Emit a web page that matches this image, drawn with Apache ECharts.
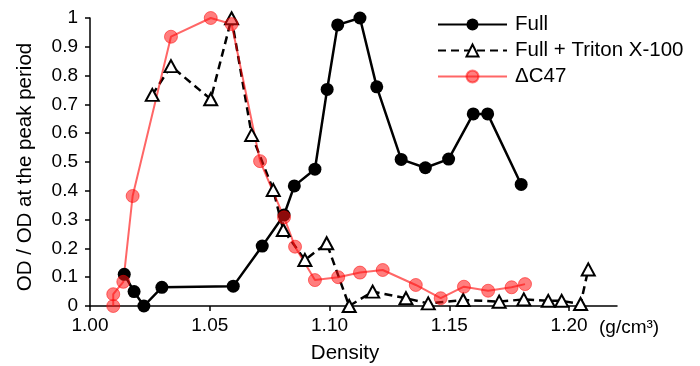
<!DOCTYPE html>
<html><head><meta charset="utf-8">
<script src="https://cdn.jsdelivr.net/npm/echarts@6/dist/echarts.min.js"></script>
<style>html,body{margin:0;padding:0;background:#fff}#c{width:700px;height:366px}</style>
</head><body><div id="c"></div>
<script>
// ---- data ----
const fullX   = [1.0143,1.0184,1.0225,1.030,1.0598,1.0719,1.081,1.0853,1.0939,1.099,1.1034,1.1127,1.1197,1.1299,1.140,1.1497,1.160,1.166,1.180];
const fullY   = [0.110,0.050,0.000,0.065,0.069,0.208,0.316,0.417,0.475,0.752,0.976,1.000,0.761,0.509,0.480,0.510,0.667,0.667,0.422];
const tritonX = [1.026,1.0338,1.0504,1.0591,1.0675,1.0765,1.0807,1.0897,1.0988,1.1082,1.118,1.1319,1.1412,1.1558,1.1708,1.1811,1.1913,1.1969,1.2048,1.208];
const tritonY = [0.733,0.833,0.718,0.999,0.594,0.403,0.264,0.160,0.218,0.000,0.050,0.027,0.009,0.021,0.015,0.023,0.018,0.018,0.007,0.127];
const c47X    = [1.0097,1.0097,1.0139,1.0178,1.0338,1.0504,1.0591,1.071,1.081,1.0856,1.0939,1.1036,1.1127,1.1222,1.136,1.1464,1.1561,1.1662,1.176,1.1816];
const c47Y    = [0.000,0.041,0.084,0.382,0.935,1.000,0.979,0.503,0.308,0.206,0.090,0.100,0.116,0.125,0.073,0.027,0.067,0.053,0.065,0.076];
const seriesNames = ['Full','Full + Triton X-100','\u0394C47'];
const xTicks = [1.00,1.05,1.10,1.15,1.20];
const xName = 'Density';
const yName = 'OD / OD at the peak period';
const unitLabel = '(g/cm\u00B3)';

const FONT = '"Liberation Sans", Arial, Helvetica, sans-serif';
const FS = 19;     // tick labels
const FS2 = 20.5;  // names & legend
function pairs(xs, ys){ return xs.map((x,i)=>[x, ys[i]]); }

const chart = echarts.init(document.getElementById('c'), null, {renderer:'canvas'});
chart.setOption({
  animation:false,
  backgroundColor:'#fff',
  grid:{left:90, right:83, top:18, bottom:60},
  xAxis:{
    type:'value', min:1.0, max:1.22, interval:0.05,
    axisLine:{show:true, onZero:false, lineStyle:{color:'#000', width:1.5}},
    axisTick:{show:true, length:5, customValues:xTicks, lineStyle:{color:'#000', width:1.5}},
    axisLabel:{customValues:xTicks, formatter:v=>Number(v).toFixed(2), color:'#000', fontFamily:FONT, fontSize:FS, margin:10},
    splitLine:{show:false}
  },
  yAxis:{
    type:'value', min:0, max:1, interval:0.1,
    axisLine:{show:true, lineStyle:{color:'#000', width:1.5}},
    axisTick:{show:true, length:5, lineStyle:{color:'#000', width:1.5}},
    axisLabel:{formatter:v=>String(Math.round(v*10)/10), color:'#000', fontFamily:FONT, fontSize:FS, margin:12},
    splitLine:{show:false}
  },
  legend:{
    orient:'vertical', left:432, top:9, padding:5, itemWidth:69, itemHeight:15, itemGap:5,
    textStyle:{fontFamily:FONT, fontSize:FS2, color:'#000', padding:[0,0,0,3]},
    data:seriesNames
  },
  graphic:[
    {type:'text', x:25, y:167, rotation:Math.PI/2,
     style:{text:yName, fontFamily:FONT, fontSize:FS2, fill:'#000', align:'center', verticalAlign:'middle'}},
    {type:'text', x:345, y:353,
     style:{text:xName, fontFamily:FONT, fontSize:FS2, fill:'#000', align:'center', verticalAlign:'middle'}},
    {type:'text', x:599, y:328,
     style:{text:unitLabel, fontFamily:FONT, fontSize:FS, fill:'#000', align:'left', verticalAlign:'middle'}}
  ],
  series:[
    {name:seriesNames[0], type:'line', data:pairs(fullX, fullY),
     symbol:'circle', symbolSize:13,
     lineStyle:{color:'#000', width:2.5},
     itemStyle:{color:'#000', borderColor:'#000', borderWidth:0}},
    {name:seriesNames[1], type:'line', data:pairs(tritonX, tritonY),
     symbol:'triangle', symbolSize:[13,12],
     lineStyle:{color:'#000', width:2.5, type:[8,5]},
     itemStyle:{color:'#fff', borderColor:'#000', borderWidth:2}},
    {name:seriesNames[2], type:'line', data:pairs(c47X, c47Y),
     symbol:'circle', symbolSize:13,
     lineStyle:{color:'rgba(255,0,0,0.6)', width:2},
     itemStyle:{color:'rgba(255,20,20,0.55)', borderColor:'rgba(255,0,0,0.5)', borderWidth:1}}
  ]
});
</script></body></html>
